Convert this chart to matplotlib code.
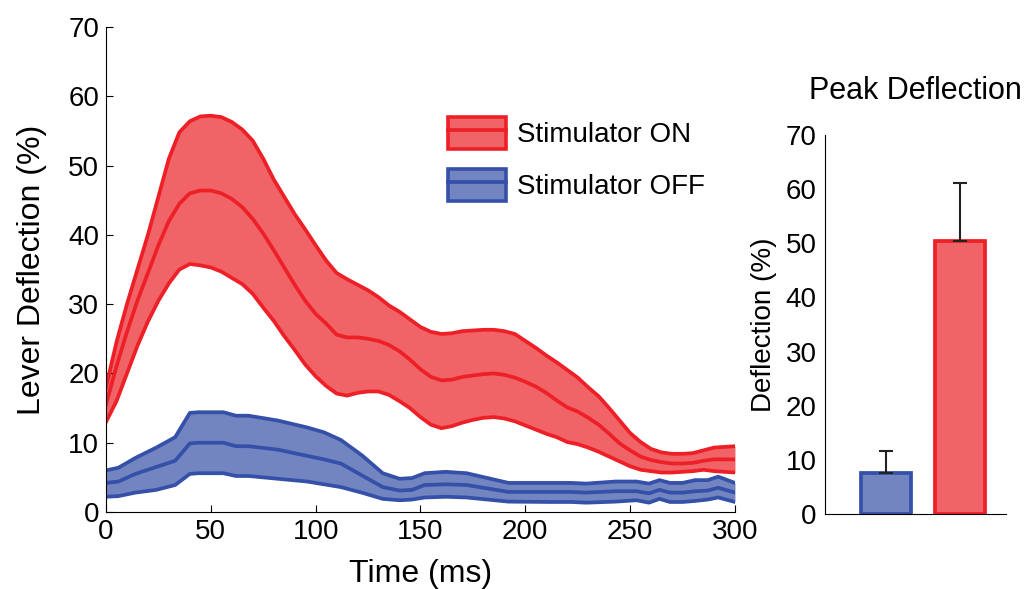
import numpy as np
import matplotlib
matplotlib.use("Agg")
import matplotlib.pyplot as plt
from matplotlib.patches import Patch
from matplotlib.lines import Line2D

plt.rcParams['font.family'] = ['Liberation Sans', 'DejaVu Sans']

# stimulator ON (red band), 5 ms grid
t_on = np.arange(0, 301, 5)
on_upper = [18.0, 24.5, 30.0, 35.0, 40.0, 45.5, 51.0, 54.8, 56.4, 57.1, 57.2, 57.0, 56.3,
            55.2, 53.6, 51.0, 48.0, 45.5, 43.0, 40.8, 38.5, 36.3, 34.5, 33.6, 32.8, 32.0,
            31.0, 29.8, 28.9, 27.8, 26.7, 26.0, 25.7, 25.8, 26.1, 26.2, 26.3, 26.3, 26.1,
            25.7, 24.7, 23.7, 22.6, 21.6, 20.5, 19.4, 18.0, 16.7, 15.0, 13.2, 11.4, 10.1,
            9.1, 8.6, 8.4, 8.4, 8.5, 8.9, 9.3, 9.4, 9.5]
on_mean = [15.5, 21.0, 26.0, 30.5, 34.5, 38.5, 42.0, 44.5, 46.0, 46.4, 46.4, 46.0, 45.2,
           44.0, 42.3, 40.2, 37.8, 35.3, 32.8, 30.5, 28.6, 27.2, 25.6, 25.2, 25.2, 25.0,
           24.7, 24.1, 23.2, 22.0, 20.6, 19.5, 19.0, 19.1, 19.5, 19.7, 19.9, 20.0, 19.8,
           19.4, 18.8, 18.1, 17.2, 16.1, 15.1, 14.5, 13.6, 12.6, 11.3, 9.9, 8.9, 8.0,
           7.5, 7.2, 7.0, 7.0, 7.1, 7.4, 7.6, 7.6, 7.6]
on_lower = [13.0, 16.0, 20.0, 24.0, 27.5, 30.5, 33.0, 35.0, 35.8, 35.6, 35.3, 34.7, 33.8,
            32.9, 31.5, 29.5, 27.6, 25.4, 23.4, 21.3, 19.6, 18.2, 17.1, 16.8, 17.2, 17.4,
            17.4, 16.9, 16.0, 15.0, 13.7, 12.6, 12.1, 12.4, 12.9, 13.3, 13.6, 13.7, 13.5,
            13.1, 12.5, 11.9, 11.3, 10.8, 10.1, 9.8, 9.3, 8.7, 8.0, 7.3, 6.6, 6.1,
            5.9, 5.7, 5.7, 5.8, 5.9, 6.1, 5.9, 5.8, 5.7]

# stimulator OFF (blue band)
t_off = [0, 6, 14, 24, 33, 40, 44, 56, 62, 68, 82, 96, 104, 112, 122, 132, 140, 146, 152,
         162, 172, 182, 192, 212, 222, 229, 243, 253, 259, 264, 269, 275, 281, 287, 292, 300]
off_upper = [6.0, 6.4, 7.8, 9.3, 10.8, 14.3, 14.4, 14.4, 13.9, 13.9, 13.2, 12.2, 11.5, 10.4,
             8.2, 5.6, 4.8, 4.9, 5.6, 5.8, 5.6, 4.9, 4.2, 4.2, 4.2, 4.1, 4.4, 4.4, 4.1, 4.6,
             4.2, 4.2, 4.6, 4.6, 5.1, 4.2]
off_mean = [4.2, 4.4, 5.5, 6.5, 7.4, 9.9, 10.0, 10.0, 9.5, 9.5, 9.0, 8.1, 7.6, 7.0, 5.3,
            3.6, 3.1, 3.2, 3.9, 4.0, 3.9, 3.4, 2.9, 2.9, 2.9, 2.8, 3.0, 3.0, 2.7, 3.2, 2.8,
            2.8, 3.0, 3.1, 3.5, 2.8]
off_lower = [2.2, 2.3, 2.8, 3.2, 3.9, 5.5, 5.6, 5.6, 5.2, 5.2, 4.8, 4.4, 4.0, 3.6, 2.8,
             1.9, 1.7, 1.8, 2.1, 2.2, 2.1, 1.8, 1.5, 1.45, 1.45, 1.35, 1.5, 1.7, 1.35, 1.9,
             1.45, 1.45, 1.6, 1.8, 2.1, 1.45]

# peak deflection bars: OFF, ON
peak_mean = [7.5, 50.4]
peak_err = [4.2, 10.7]

red_fill, red_line = '#F06468', '#EE2027'
blue_fill, blue_line = '#7385C0', '#3550A8'

fig = plt.figure(figsize=(10.35, 5.89), dpi=100)

# time course
ax1 = fig.add_axes([0.1024, 0.1307, 0.6077, 0.8234])
ax1.fill_between(t_off, off_lower, off_upper, color=blue_fill, lw=0)
for y in (off_upper, off_mean, off_lower):
    ax1.plot(t_off, y, color=blue_line, lw=2.7, solid_joinstyle='round')
ax1.fill_between(t_on, on_lower, on_upper, color=red_fill, lw=0)
for y in (on_upper, on_mean, on_lower):
    ax1.plot(t_on, y, color=red_line, lw=2.7, solid_joinstyle='round')

ax1.set_xlim(0, 300)
ax1.set_ylim(0, 70)
ax1.set_xticks(range(0, 301, 50))
ax1.set_yticks(range(0, 71, 10))
ax1.spines['top'].set_visible(False)
ax1.spines['right'].set_visible(False)
ax1.tick_params(direction='in', length=5, labelsize=20, pad=5)
ax1.set_xlabel("Time (ms)", fontsize=23, labelpad=10)
ax1.set_ylabel("Lever Deflection (%)", fontsize=23, labelpad=15)

h_on = (Patch(facecolor=red_fill, edgecolor=red_line, lw=2.6),
        Line2D([], [], color=red_line, lw=2.7))
h_off = (Patch(facecolor=blue_fill, edgecolor=blue_line, lw=2.6),
         Line2D([], [], color=blue_line, lw=2.7))
fig.legend([h_on, h_off], ["Stimulator ON", "Stimulator OFF"],
           loc='upper left', bbox_to_anchor=(448 / 1035, 1 - 117 / 589),
           frameon=False, fontsize=20, handlelength=2.1, handleheight=1.37,
           labelspacing=0.75, handletextpad=0.4, borderpad=0, borderaxespad=0)

# peak bars
ax2 = fig.add_axes([0.797, 0.1273, 0.1749, 0.6435])
ax2.bar([1, 2], peak_mean, width=0.67,
        color=[blue_fill, red_fill], edgecolor=[blue_line, red_line], linewidth=2.7)
ax2.errorbar([1, 2], peak_mean, yerr=[[0, 0], peak_err], fmt='none',
             ecolor='#222222', elinewidth=1.5, capsize=5, capthick=1.5)
ax2.set_xlim(0.18, 2.62)
ax2.set_ylim(0, 70)
ax2.set_yticks(range(0, 71, 10))
ax2.set_xticks([])
ax2.spines['top'].set_visible(False)
ax2.spines['right'].set_visible(False)
ax2.tick_params(axis='y', direction='in', length=0, labelsize=20, pad=6)
ax2.set_ylabel("Deflection (%)", fontsize=20, labelpad=6)
ax2.set_title("Peak Deflection", fontsize=22, pad=26)

fig.savefig("out.png", dpi=100)
